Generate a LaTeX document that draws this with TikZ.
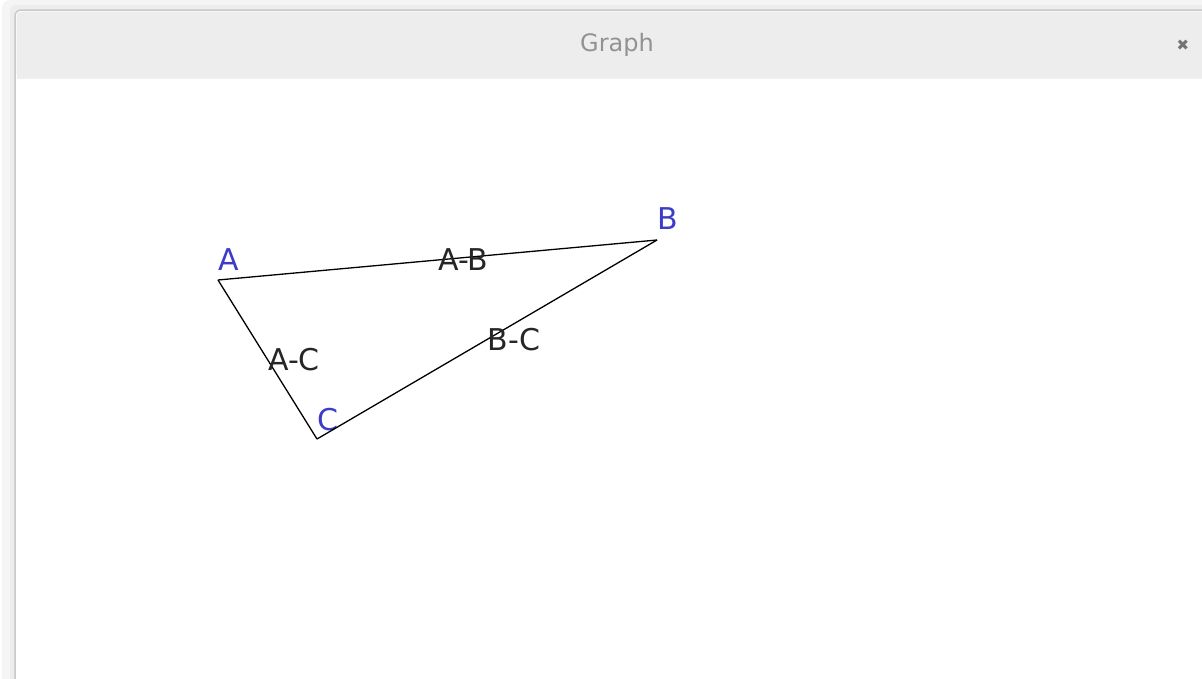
\documentclass[tikz,border=0pt]{standalone}
\usepackage{fontspec}
\setmainfont{DejaVu Sans}
\usepackage{tikz}
\usetikzlibrary{positioning}
\definecolor{barcol}{HTML}{EDEDED}
\definecolor{framecol}{HTML}{C9C9C9}
\definecolor{vertexcol}{HTML}{3C3CC8}
\definecolor{titlecol}{HTML}{929292}

\begin{document}
\begin{tikzpicture}[
  x=1pt, y=-1pt,
  edge/.style={draw=black, line width=1.3pt},
  vlabel/.style={text=vertexcol, inner sep=0pt, anchor=base west,
                 font=\fontsize{30}{33}\selectfont},
  elabel/.style={text=black!85, inner sep=0pt, anchor=west,
                 font=\fontsize{30}{33}\selectfont}
]
\useasboundingbox (0,0) rectangle (1202,678);

% window
\fill[black!4, rounded corners=8pt] (2,0) rectangle (1230,700);
\fill[black!7, rounded corners=6pt] (10,5) rectangle (1225,700);
\filldraw[draw=framecol, line width=1.5pt, fill=white, rounded corners=6pt]
  (15,10) rectangle (1225,700);
\fill[barcol, rounded corners=5pt] (16.5,11.5) rectangle (1223,78);
\fill[barcol] (16.5,40) rectangle (1223,78);
\draw[black!6, line width=1pt] (16.5,78.5) -- (1223,78.5);
\node[text=titlecol, font=\fontsize{24}{27}\selectfont] (title) at (617,45) {Graph};
\node[text=black!55, font=\fontsize{15}{16}\selectfont] (close) at (1183,45) {✖};

% vertices
\coordinate (A) at (218,280);
\coordinate (B) at (657,240);
\coordinate (C) at (317,439);

\node[vlabel] (la) at ([yshift=10pt]A) {A};
\node[vlabel] (lb) at ([yshift=11pt]B) {B};
\node[vlabel] (lc) at ([yshift=9pt]C) {C};

% edges
\draw[edge] (A) -- (B) node[elabel, pos=0.5] (ab) {A-B};
\draw[edge] (A) -- (C) node[elabel, pos=0.5] (ac) {A-C};
\draw[edge] (B) -- (C) node[elabel, pos=0.5] (bc) {B-C};

\end{tikzpicture}
\end{document}
